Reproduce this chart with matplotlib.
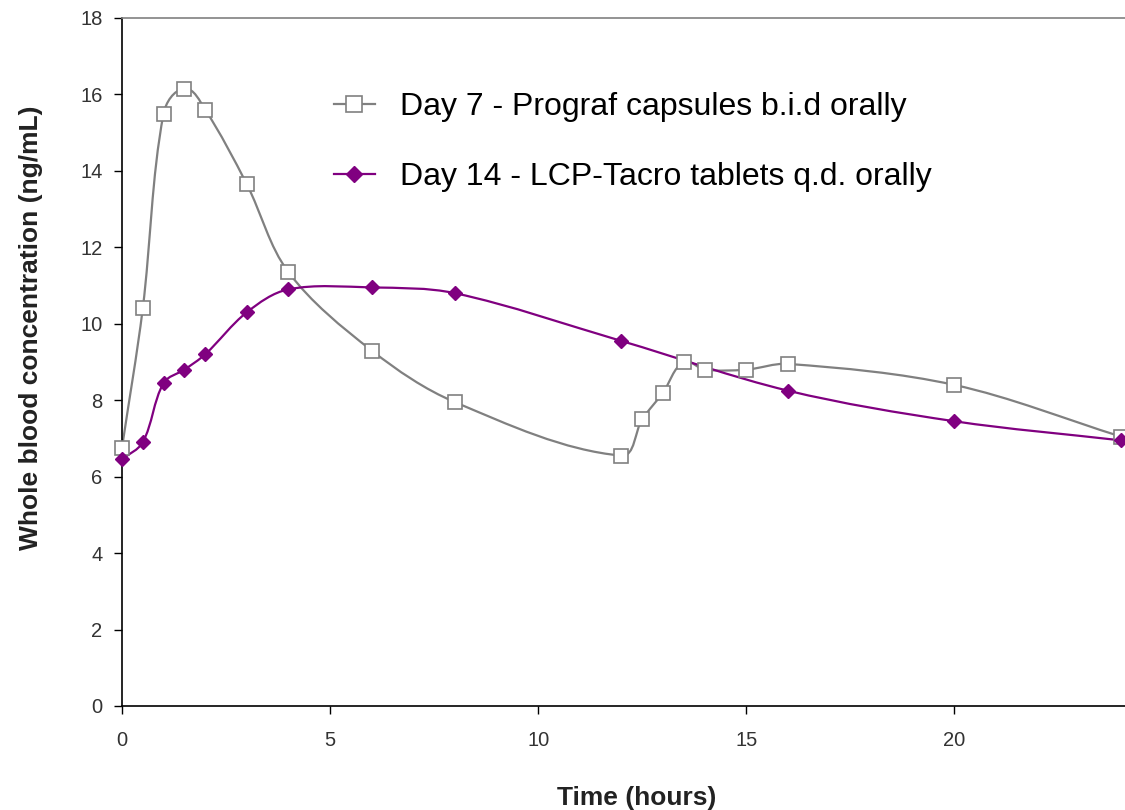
import numpy as np
import matplotlib
matplotlib.use('Agg')
from matplotlib import pyplot as plt
from matplotlib.path import Path
from matplotlib.patches import PathPatch
from matplotlib.lines import Line2D

plt.rcParams['font.family'] = ['Liberation Sans', 'DejaVu Sans']

# data
t7 = [0, 0.5, 1, 1.5, 2, 3, 4, 6, 8, 12, 12.5, 13, 13.5, 14, 15, 16, 20, 24]
c7 = [6.75, 10.4, 15.5, 16.15, 15.6, 13.65, 11.35, 9.3, 7.95, 6.55, 7.5, 8.2, 9.0, 8.8, 8.8, 8.95, 8.4, 7.05]
t14 = [0, 0.5, 1, 1.5, 2, 3, 4, 6, 8, 12, 16, 20, 24]
c14 = [6.45, 6.9, 8.45, 8.8, 9.2, 10.3, 10.9, 10.95, 10.8, 9.55, 8.25, 7.45, 6.95]
label7 = 'Day 7 - Prograf capsules b.i.d orally'
label14 = 'Day 14 - LCP-Tacro tablets q.d. orally'
xticks = [0, 5, 10, 15, 20]
yticks = list(range(0, 19, 2))


def smooth_path(x, y, yscale=0.92):
    # smoothed line like excel: bezier, control arms a third of each segment
    p = np.column_stack([x, np.asarray(y, float) * yscale]).astype(float)
    n = len(p)
    tan = []
    for i in range(n):
        a = p[max(i - 1, 0)]
        b = p[min(i + 1, n - 1)]
        d = b - a
        tan.append(d / np.hypot(*d))
    verts = [p[0]]
    codes = [Path.MOVETO]
    for i in range(n - 1):
        L = np.hypot(*(p[i + 1] - p[i])) / 3
        verts += [p[i] + tan[i] * L, p[i + 1] - tan[i + 1] * L, p[i + 1]]
        codes += [Path.CURVE4] * 3
    v = np.array(verts)
    v[:, 1] /= yscale
    return Path(v, codes)


fig = plt.figure(figsize=(11.25, 8.1), dpi=100)
ax = fig.add_axes([0.1084, 0.1284, 0.8916, 0.8494])

gray = '#808080'
purple = '#800080'
tickcol = '#333333'

ax.add_patch(PathPatch(smooth_path(t7, c7), fill=False, edgecolor=gray, lw=1.6, zorder=2))
ax.add_patch(PathPatch(smooth_path(t14, c14), fill=False, edgecolor=purple, lw=1.6, zorder=3))
ax.plot(t7, c7, ls='none', marker='s', ms=9.5, mfc='white', mec=gray, mew=1.2, zorder=4, clip_on=False)
ax.plot(t14, c14, ls='none', marker='D', ms=7.5, mfc=purple, mec=purple, zorder=5, clip_on=False)

ax.set_xlim(0, 24.1)
ax.set_ylim(0, 18)
ax.set_xticks(xticks)
ax.set_yticks(yticks)
ax.tick_params(direction='out', length=6, width=1, labelsize=14.5, colors='black', labelcolor=tickcol)
ax.tick_params(axis='x', pad=12)
ax.tick_params(axis='y', pad=8)
for s in ['left', 'bottom']:
    ax.spines[s].set_linewidth(1.2)
    ax.spines[s].set_color('black')
ax.spines['top'].set_color(gray)
ax.spines['top'].set_linewidth(1.2)
ax.spines['right'].set_visible(False)

fig.text(0.566, 0.0, 'Time (hours)', ha='center', va='bottom', fontsize=19, fontweight='bold', color='#222222')
fig.text(0.028, 0.595, 'Whole blood concentration (ng/mL)', ha='center', va='center',
         rotation=90, fontsize=19, fontweight='bold', color='#222222')

h7 = Line2D([], [], color=gray, lw=1.6, marker='s', ms=11, mfc='white', mec=gray, mew=1.2)
h14 = Line2D([], [], color=purple, lw=1.6, marker='D', ms=8, mfc=purple, mec=purple)
ax.legend([h7, h14], [label7, label14], loc='upper left', bbox_to_anchor=(0.271, 0.922),
          bbox_transform=fig.transFigure, frameon=False, fontsize=23, handlelength=1.28,
          handletextpad=0.8, labelspacing=1.25)

fig.savefig('out.png', dpi=100)
